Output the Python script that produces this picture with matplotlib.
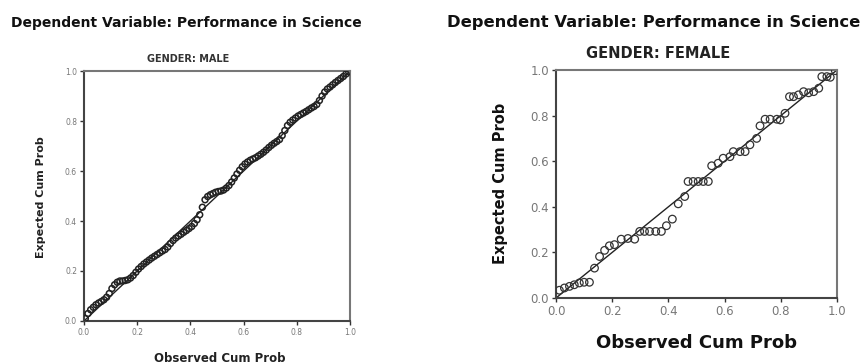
import matplotlib
matplotlib.use("Agg")
import matplotlib.pyplot as plt
import numpy as np

# P-P plot data (observed cum prob, expected cum prob)
male_obs = [0.005, 0.015, 0.025, 0.035, 0.045, 0.055, 0.065, 0.075, 0.085, 0.095,
            0.105, 0.115, 0.125, 0.135, 0.145, 0.155, 0.165, 0.175, 0.185, 0.195,
            0.205, 0.215, 0.225, 0.235, 0.245, 0.255, 0.265, 0.275, 0.285, 0.295,
            0.305, 0.315, 0.325, 0.335, 0.345, 0.355, 0.365, 0.375, 0.385, 0.395,
            0.405, 0.415, 0.425, 0.435, 0.445, 0.455, 0.465, 0.475, 0.485, 0.495,
            0.505, 0.515, 0.525, 0.535, 0.545, 0.555, 0.565, 0.575, 0.585, 0.595,
            0.605, 0.615, 0.625, 0.635, 0.645, 0.655, 0.665, 0.675, 0.685, 0.695,
            0.705, 0.715, 0.725, 0.735, 0.745, 0.755, 0.765, 0.775, 0.785, 0.795,
            0.805, 0.815, 0.825, 0.835, 0.845, 0.855, 0.865, 0.875, 0.885, 0.895,
            0.905, 0.915, 0.925, 0.935, 0.945, 0.955, 0.965, 0.975, 0.985, 0.995]
male_exp = [0.010, 0.030, 0.045, 0.055, 0.065, 0.072, 0.078, 0.085, 0.095, 0.110,
            0.130, 0.145, 0.155, 0.160, 0.160, 0.162, 0.165, 0.172, 0.182, 0.195,
            0.208, 0.218, 0.228, 0.236, 0.244, 0.252, 0.259, 0.266, 0.273, 0.280,
            0.286, 0.296, 0.310, 0.322, 0.332, 0.340, 0.347, 0.355, 0.362, 0.370,
            0.378, 0.390, 0.405, 0.425, 0.455, 0.485, 0.498, 0.505, 0.510, 0.515,
            0.518, 0.520, 0.524, 0.532, 0.542, 0.556, 0.572, 0.588, 0.603, 0.617,
            0.628, 0.636, 0.643, 0.648, 0.653, 0.660, 0.667, 0.675, 0.684, 0.694,
            0.703, 0.711, 0.718, 0.726, 0.742, 0.762, 0.782, 0.795, 0.804, 0.812,
            0.820, 0.826, 0.832, 0.838, 0.845, 0.852, 0.858, 0.866, 0.882, 0.900,
            0.916, 0.928, 0.936, 0.945, 0.954, 0.962, 0.970, 0.978, 0.988, 0.997]

female_obs = [0.012, 0.030, 0.048, 0.065, 0.083, 0.100, 0.119, 0.137, 0.155, 0.173,
              0.190, 0.208, 0.232, 0.256, 0.280, 0.298, 0.315, 0.333, 0.355, 0.375,
              0.393, 0.414, 0.435, 0.458, 0.470, 0.488, 0.506, 0.524, 0.542, 0.554,
              0.577, 0.595, 0.619, 0.631, 0.655, 0.673, 0.690, 0.714, 0.726, 0.744,
              0.762, 0.786, 0.798, 0.815, 0.831, 0.845, 0.863, 0.881, 0.899, 0.917,
              0.935, 0.946, 0.964, 0.976, 0.994]
female_exp = [0.034, 0.044, 0.051, 0.058, 0.066, 0.069, 0.069, 0.131, 0.182, 0.209,
              0.229, 0.234, 0.258, 0.261, 0.258, 0.292, 0.292, 0.292, 0.292, 0.292,
              0.317, 0.346, 0.413, 0.445, 0.511, 0.511, 0.511, 0.511, 0.511, 0.580,
              0.591, 0.613, 0.620, 0.642, 0.642, 0.642, 0.672, 0.700, 0.755, 0.784,
              0.784, 0.784, 0.781, 0.810, 0.883, 0.883, 0.891, 0.905, 0.900, 0.905,
              0.920, 0.971, 0.971, 0.968, 0.997]

ticks = [0.0, 0.2, 0.4, 0.6, 0.8, 1.0]
tick_labels = ["0.0", "0.2", "0.4", "0.6", "0.8", "1.0"]

W, H = 867, 363
fig = plt.figure(figsize=(W / 100, H / 100), dpi=100)
fig.patch.set_facecolor("white")


def style_axes(ax, tick_size, lw):
    ax.set_xlim(0, 1)
    ax.set_ylim(0, 1)
    ax.set_xticks(ticks)
    ax.set_yticks(ticks)
    ax.set_xticklabels(tick_labels)
    ax.set_yticklabels(tick_labels)
    ax.tick_params(direction="out", length=3, width=1, colors="#333333",
                   labelcolor="#777777", labelsize=tick_size, pad=2)
    for side in ["left", "bottom"]:
        ax.spines[side].set_color("#444444")
        ax.spines[side].set_linewidth(lw)
    for side in ["top", "right"]:
        ax.spines[side].set_color("#777777")
        ax.spines[side].set_linewidth(lw)
    ax.plot([0, 1], [0, 1], color="#222222", linewidth=1.0, zorder=2)


# left panel: male
ax1 = fig.add_axes([84 / W, 1 - 321 / H, 266 / W, 250 / H])
style_axes(ax1, 5.5, 1.5)
ax1.scatter(male_obs, male_exp, s=18, facecolors="none", edgecolors="#222222",
            linewidths=1.1, zorder=3)

# right panel: female
ax2 = fig.add_axes([556 / W, 1 - 298 / H, 281 / W, 228 / H])
style_axes(ax2, 8.5, 1.5)
ax2.scatter(female_obs, female_exp, s=30, facecolors="none", edgecolors="#333333",
            linewidths=0.9, zorder=3)

# titles and labels
fig.text(11 / W, 1 - 23 / H, "Dependent Variable: Performance in Science",
         fontsize=10, fontweight="bold", ha="left", va="center", color="#111111")
fig.text(447 / W, 1 - 23 / H, "Dependent Variable: Performance in Science",
         fontsize=11.8, fontweight="bold", ha="left", va="center", color="#111111")

fig.text(188 / W, 1 - 59 / H, "GENDER: MALE", fontsize=7, fontweight="bold",
         ha="center", va="center", color="#333333")
fig.text(658 / W, 1 - 53 / H, "GENDER: FEMALE", fontsize=10.5, fontweight="bold",
         ha="center", va="center", color="#222222")

fig.text(41 / W, 1 - 197 / H, "Expected Cum Prob", fontsize=8, fontweight="bold",
         rotation=90, ha="center", va="center", color="#222222")
fig.text(501 / W, 1 - 183 / H, "Expected Cum Prob", fontsize=10.5, fontweight="bold",
         rotation=90, ha="center", va="center", color="#111111")

fig.text(220 / W, 1 - 358 / H, "Observed Cum Prob", fontsize=8.5, fontweight="bold",
         ha="center", va="center", color="#222222")
fig.text(697 / W, 1 - 343 / H, "Observed Cum Prob", fontsize=13, fontweight="bold",
         ha="center", va="center", color="#111111")

fig.savefig("out.png", dpi=100, facecolor="white")
